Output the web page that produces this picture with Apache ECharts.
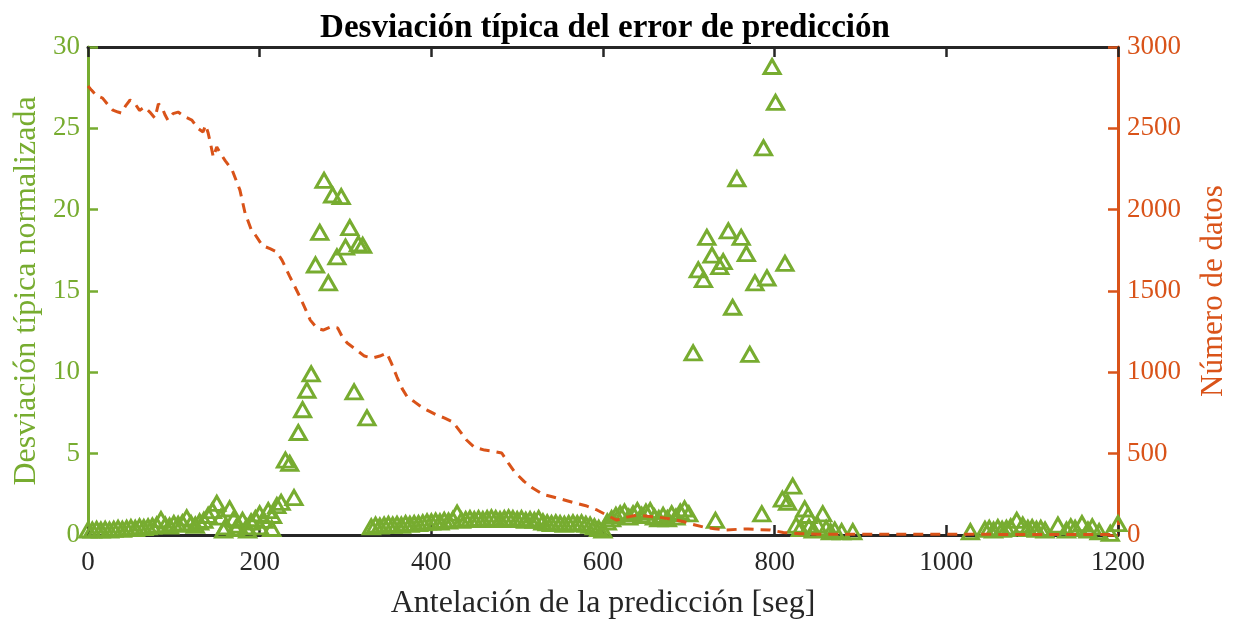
<!DOCTYPE html>
<html>
<head>
<meta charset="utf-8">
<script src="https://cdn.jsdelivr.net/npm/echarts@6/dist/echarts.min.js"></script>
<style>html,body{margin:0;padding:0;background:#fff;}#c{width:1236px;height:620px;}</style>
</head>
<body>
<div id="c"></div>
<script>
// Desviación típica normalizada (green triangles): lead time [s] and value
const stdX = [0,5,10,15,20,25,30,35,40,45,50,55,60,65,70,75,80,85,90,95,100,105,110,115,120,125,130,135,140,145,150,155,160,165,170,175,180,185,190,195,200,205,210,215,220,225,
  158,172,186,200,214,
  230,235,240,245,250,255,260,265,270,275,280,285,290,295,300,305,310,315,320,325,
  330,335,340,345,350,355,360,365,370,375,380,385,390,395,400,405,410,415,420,425,430,435,440,445,450,455,460,465,470,475,480,485,490,495,500,505,510,515,520,525,530,535,540,545,550,555,560,565,570,575,580,585,590,595,600,
  605,610,615,620,625,630,635,640,645,650,655,660,665,670,675,680,685,690,695,700,
  705,711,717,721,727,731,736,740,746,751,756,761,767,771,777,785,787,791,797,801,809,812,815,821,
  825,830,835,839,840,845,850,856,860,865,870,878,891,
  1028,1045,1050,1055,1060,1065,1070,1075,1082,1089,1095,1100,1105,1110,1115,1130,1140,1145,1150,1158,1165,1170,1178,1191,1200];
const stdY = [0.3,0.3,0.35,0.3,0.35,0.3,0.35,0.4,0.35,0.4,0.45,0.4,0.5,0.45,0.5,0.55,0.6,0.95,0.6,0.55,0.7,0.65,0.75,1.05,0.7,0.6,0.8,0.9,1.2,1.5,1.95,1.1,0.5,1.6,1.0,0.6,0.9,0.5,0.8,1.0,1.3,0.9,1.5,1.2,1.8,2.0,
  0.3,0.4,0.3,0.5,0.4,
  4.6,4.4,2.3,6.3,7.7,8.9,9.9,16.6,18.6,21.8,15.5,20.9,17.1,20.8,17.7,18.9,8.8,17.9,17.8,7.2,
  0.5,0.6,0.55,0.6,0.65,0.6,0.65,0.6,0.7,0.65,0.7,0.7,0.75,0.8,0.8,0.85,0.8,0.9,0.85,0.95,1.35,0.9,0.95,1.0,0.95,1.0,0.95,1.0,1.05,1.0,0.95,1.0,1.05,1.0,0.95,1.0,0.9,0.95,0.9,1.0,0.8,0.75,0.7,0.75,0.7,0.65,0.7,0.75,0.7,0.75,0.65,0.6,0.5,0.4,0.3,
  0.8,1.0,1.2,1.3,1.4,1.1,1.3,1.5,1.2,1.4,1.5,1.1,1.0,1.2,1.0,1.3,1.1,1.4,1.6,1.3,
  11.2,16.3,15.7,18.3,17.2,0.9,16.5,16.8,18.7,14.0,21.9,18.3,17.3,11.1,15.5,1.3,23.8,15.8,28.8,26.6,2.2,16.7,2.0,3.0,
  0.6,0.4,1.6,1.2,0.5,0.3,0.6,1.3,0.4,0.2,0.3,0.2,0.2,
  0.2,0.35,0.4,0.3,0.45,0.35,0.4,0.5,0.9,0.6,0.4,0.45,0.35,0.4,0.3,0.6,0.3,0.5,0.4,0.7,0.3,0.5,0.2,0.1,0.7];

// Número de datos (orange dashed line)
const cntX = [0,4,10,17,24,29,35,39,44,49,55,60,66,72,78,82,86,90,93,99,105,113,121,128,134,137,140,143,146,150,154,160,168,177,183,190,195,203,212,220,226,235,247,259,267,274,283,291,296,302,313,322,331,340,348,354,360,366,372,380,390,398,406,415,425,433,441,450,462,472,482,490,497,508,518,530,542,555,567,580,593,605,616,628,640,652,663,677,692,705,717,730,744,757,769,782,795,810,830,850,900,950,1000,1050,1100,1150,1200];
const cntY = [2760,2735,2700,2686,2640,2612,2600,2594,2640,2674,2650,2610,2631,2600,2563,2650,2631,2580,2551,2590,2600,2570,2551,2500,2477,2520,2471,2400,2323,2385,2348,2300,2243,2120,1979,1880,1844,1780,1760,1740,1690,1590,1463,1321,1270,1260,1280,1272,1220,1180,1137,1100,1088,1100,1119,1050,971,900,848,820,781,760,738,720,695,640,584,540,522,515,504,440,387,330,289,250,234,215,197,180,154,120,92,110,123,115,111,100,85,65,49,38,31,35,37,33,31,15,8,5,5,5,4,4,3,3,3];

const titleText = 'Desviación típica del error de predicción';
const xName = 'Antelación de la predicción [seg]';
const yLeftName = 'Desviación típica normalizada';
const yRightName = 'Número de datos';

const GREEN = '#77AC30', ORANGE = '#D95319', DARK = '#262626';
const FONT = '"Liberation Serif", "Times New Roman", serif';
const plain = v => String(v);

const chart = echarts.init(document.getElementById('c'), null, {renderer: 'canvas'});
const stdData = stdX.map((x, i) => [x, stdY[i]]);
const cntData = cntX.map((x, i) => [x, cntY[i]]);

chart.setOption({
  animation: false,
  backgroundColor: '#fff',
  title: {
    text: titleText, left: 600, top: 7, textAlign: 'center',
    textStyle: {fontFamily: FONT, fontWeight: 'bold', fontSize: 33, color: '#000'}
  },
  grid: {left: 88, right: 118, top: 47, bottom: 85, containLabel: false, outerBoundsMode: 'none'},
  xAxis: [{
    type: 'value', min: 0, max: 1200, interval: 200, position: 'bottom',
    name: xName, nameLocation: 'middle', nameGap: 53,
    nameTextStyle: {fontFamily: FONT, fontSize: 32, color: DARK},
    axisLine: {show: true, onZero: false, lineStyle: {color: DARK, width: 3}},
    axisTick: {show: true, inside: true, length: 10, lineStyle: {color: DARK, width: 2.5}},
    axisLabel: {fontFamily: FONT, fontSize: 27, color: DARK, margin: 14, formatter: plain},
    splitLine: {show: false}
  }, {
    type: 'value', min: 0, max: 1200, interval: 200, position: 'top',
    axisLine: {show: true, onZero: false, lineStyle: {color: DARK, width: 3}},
    axisTick: {show: true, inside: true, length: 10, lineStyle: {color: DARK, width: 2.5}},
    axisLabel: {show: false},
    splitLine: {show: false}
  }],
  yAxis: [{
    type: 'value', min: 0, max: 30, interval: 5, position: 'left',
    name: yLeftName, nameLocation: 'middle', nameGap: 37, nameRotate: 90,
    nameTextStyle: {fontFamily: FONT, fontSize: 32, color: GREEN},
    axisLine: {show: true, onZero: false, lineStyle: {color: GREEN, width: 3}},
    axisTick: {show: true, inside: true, length: 10, lineStyle: {color: GREEN, width: 2.5}},
    axisLabel: {fontFamily: FONT, fontSize: 27, color: GREEN, margin: 8, formatter: plain},
    splitLine: {show: false}
  }, {
    type: 'value', min: 0, max: 3000, interval: 500, position: 'right',
    name: yRightName, nameLocation: 'middle', nameGap: 80, nameRotate: 90,
    nameTextStyle: {fontFamily: FONT, fontSize: 31, color: ORANGE},
    axisLine: {show: true, onZero: false, lineStyle: {color: ORANGE, width: 3}},
    axisTick: {show: true, inside: true, length: 10, lineStyle: {color: ORANGE, width: 2.5}},
    axisLabel: {fontFamily: FONT, fontSize: 27, color: ORANGE, margin: 9, formatter: plain},
    splitLine: {show: false}
  }],
  series: [{
    type: 'scatter', xAxisIndex: 0, yAxisIndex: 0, data: stdData,
    symbol: 'triangle', symbolSize: [16, 14],
    itemStyle: {color: 'rgba(255,255,255,0)', borderColor: GREEN, borderWidth: 3, opacity: 1},
    z: 3
  }, {
    type: 'line', xAxisIndex: 0, yAxisIndex: 1, data: cntData,
    showSymbol: false, symbol: 'none',
    lineStyle: {color: ORANGE, width: 3, type: [10, 7]},
    z: 4
  }]
});
</script>
</body>
</html>
